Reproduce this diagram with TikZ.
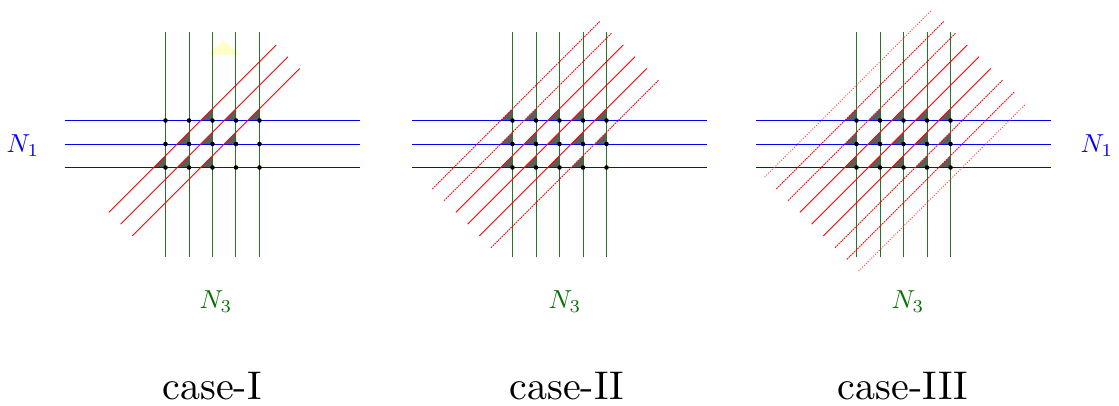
\documentclass[tikz,border=0pt]{standalone}
\definecolor{gline}{rgb}{0.15,0.45,0.15}
\definecolor{glabel}{rgb}{0,0.45,0}
\definecolor{tri}{gray}{0.36}
\definecolor{pale}{rgb}{1,1,0.78}
\tikzset{
  gridv/.style={fill=gline},
  gridh/.style={fill=blue},
  redsolid/.style={draw=red, line width=1pt},
  reddash/.style={draw=red, line width=1pt, dash pattern=on 1.6pt off 0.9pt},
  reddot/.style={draw=red!75, line width=0.9pt, dash pattern=on 1pt off 1.6pt},
  trifill/.style={fill=tri},
  gdot/.style={circle, fill=black, inner sep=0pt, minimum size=4.6pt},
  nlbl/.style={inner sep=0pt, scale=2.6},
  caselbl/.style={inner sep=0pt, scale=4},
  grid/.style={yshift=-167.5pt, x=23.5pt, y=23.5pt}
}
\newcommand\redseg[2]{\draw[#1] ({-2.16-0.5*#2},{-2.16+0.5*#2}) -- ({4.96-0.5*#2},{4.96+0.5*#2});}
\newcommand\gridtris[1]{%
  \foreach \c in {#1} {%
    \foreach \i in {0,...,4} {%
      \pgfmathtruncatemacro\rowj{round(\c+\i-0.5)}%
      \ifnum\rowj>-1 \ifnum\rowj<3
        \fill[trifill] (\i-0.5,\rowj) -- (\i,\rowj) -- (\i,\rowj+0.5) -- cycle;
      \fi\fi
    }%
  }%
}
% absolute, pixel-aligned grid lines drawn as thin filled bars: #1 panel x, #2 offset of 4th column
\newcommand\gridabs[2]{%
  \foreach \o in {0,24,47,#2,94} {\fill[gridv] (#1+\o-0.65,-31.7) rectangle (#1+\o+0.65,-256.7);}
  \foreach \r in {120.5,144.5,167.5} {\fill[gridh] (#1-101,-\r-0.65) rectangle (#1+194,-\r+0.65);}
}
\newcommand\griddots[1]{%
  \foreach \i in {0,...,4} {\foreach \k in {0,1,2} {\node[gdot] (#1-\i-\k) at (\i,\k) {};}}
}
\begin{document}
\begin{tikzpicture}[x=1pt,y=1pt]
\fill[white] (0,0) rectangle (1119,-406);
\useasboundingbox (0,0) rectangle (1119,-406);
% panel 1
\begin{scope}[xshift=165.5pt, grid]
  \gridtris{0.5,-0.5,-1.5}
  \fill[pale] (1.82,4.8) -- (3.19,4.8) -- (2.44,5.40) -- cycle;
\end{scope}
\gridabs{165.5}{70}
\begin{scope}[xshift=165.5pt, grid]
  \foreach \c in {0.5,-0.5,-1.5} {\redseg{redsolid}{\c}}
  \griddots{a}
\end{scope}
% panel 2
\begin{scope}[xshift=512.5pt, grid]
  \gridtris{2.5,1.5,0.5,-0.5,-1.5,-2.5}
\end{scope}
\gridabs{512.5}{71}
\begin{scope}[xshift=512.5pt, grid]
  \foreach \c in {0.5,-0.5,-1.5} {\redseg{redsolid}{\c}}
  \foreach \c in {2.5,1.5,-2.5} {\redseg{reddash}{\c}}
  \griddots{b}
\end{scope}
% panel 3
\begin{scope}[xshift=856.5pt, grid]
  \gridtris{2.5,1.5,0.5,-0.5,-1.5,-2.5,-3.5}
\end{scope}
\gridabs{856.5}{71}
\begin{scope}[xshift=856.5pt, grid]
  \foreach \c in {0.5,-0.5,-1.5} {\redseg{redsolid}{\c}}
  \foreach \c in {2.5,1.5,-2.5,-3.5} {\redseg{reddash}{\c}}
  \foreach \c in {3.5,-4.5} {\redseg{reddot}{\c}}
  \griddots{c}
\end{scope}
% labels
\node[nlbl, text=blue] (n1l) at (23,-146) {$N_1$};
\node[nlbl, text=blue] (n1r) at (1097,-146) {$N_1$};
\node[nlbl, text=glabel] (n3a) at (216,-302) {$N_3$};
\node[nlbl, text=glabel] (n3b) at (565,-302) {$N_3$};
\node[nlbl, text=glabel] (n3c) at (908,-302) {$N_3$};
\node[caselbl] (ca) at (212,-386) {case-I};
\node[caselbl] (cb) at (567,-386) {case-II};
\node[caselbl] (cc) at (903,-386) {case-III};
\end{tikzpicture}
\end{document}
